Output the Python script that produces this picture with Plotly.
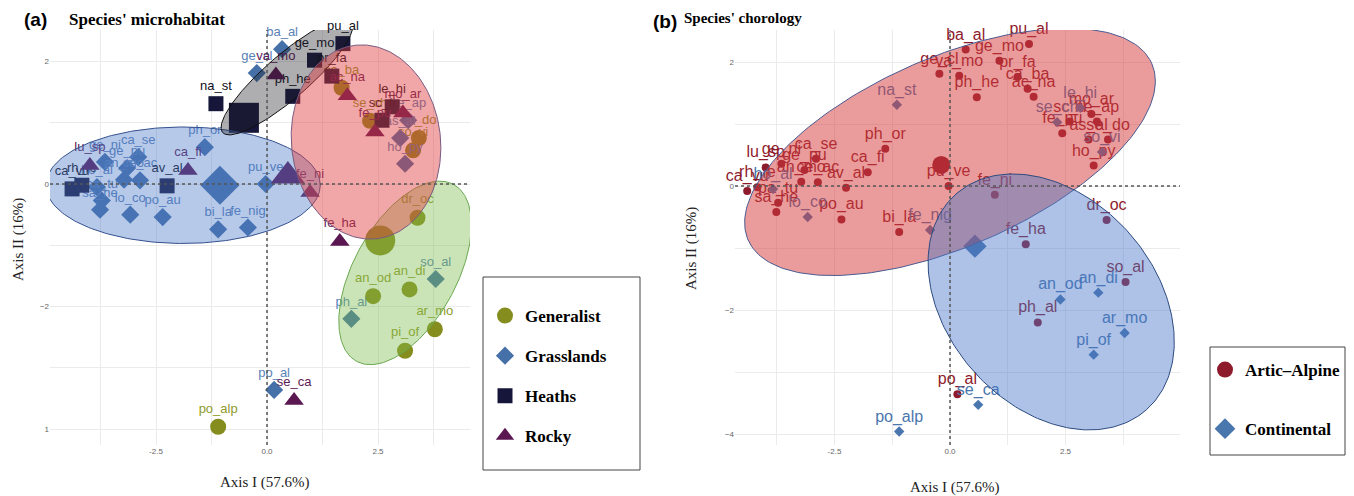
import numpy as np
import plotly.graph_objects as go

# ---------------- data ----------------
species = ["ca_vu", "rh_fe", "lu_sp", "ge_ni", "ge_pu", "ca_se", "an_mo", "ce_ac", "pa_tu", "ho_al", "sa_he",
           "le_hi", "mo_ar", "he_ap", "sc_ti", "se_ch", "fe_pu", "as_al", "se_do", "so_vi", "ho_py",
           "ba_al", "pu_al", "ge_mo", "ge_cl", "va_mo", "pr_fa", "ph_he", "ca_ba", "ac_na", "na_st",
           "ph_or", "ca_fi", "av_al", "lo_co", "po_au", "bi_la", "fe_nig", "pu_ve", "fe_ni", "fe_ha", "dr_oc",
           "so_al", "an_od", "an_di", "ph_al", "ar_mo", "pi_of", "po_al", "se_ca", "po_alp"]
axis1 = [-4.39, -4.17, -3.99, -3.65, -3.15, -2.90, -3.22, -2.86, -3.72, -3.83, -3.76,
         2.82, 3.06, 3.18, 2.59, 2.32, 2.43, 3.00, 3.42, 3.29, 3.11,
         0.34, 1.71, 1.07, -0.23, 0.20, 1.46, 0.58, 1.68, 1.81, -1.15,
         -1.40, -1.78, -2.25, -3.08, -2.35, -1.10, -0.43, -0.03, 0.97, 1.64, 3.39,
         3.80, 2.39, 3.21, 1.90, 3.78, 3.11, 0.16, 0.61, -1.10]
axis2 = [-0.08, -0.02, 0.30, 0.36, 0.26, 0.44, 0.07, 0.06, -0.27, -0.05, -0.42,
         1.26, 1.16, 1.04, 1.04, 1.03, 0.85, 0.75, 0.75, 0.55, 0.33,
         2.20, 2.29, 2.02, 1.81, 1.78, 1.76, 1.43, 1.57, 1.44, 1.31,
         0.60, 0.22, -0.03, -0.50, -0.54, -0.74, -0.71, 0.00, -0.14, -0.94, -0.55,
         -1.55, -1.83, -1.72, -2.20, -2.37, -2.72, -3.36, -3.53, -3.96]
habitat = ["Heaths", "Heaths", "Rocky", "Grasslands", "Grasslands", "Grasslands", "Grasslands", "Grasslands",
           "Grasslands", "Grasslands", "Grasslands",
           "Heaths", "Rocky", "Grasslands", "Heaths", "Generalist", "Rocky", "Grasslands", "Generalist",
           "Generalist", "Grasslands",
           "Grasslands", "Heaths", "Heaths", "Grasslands", "Rocky", "Heaths", "Heaths", "Generalist", "Rocky",
           "Heaths",
           "Grasslands", "Rocky", "Heaths", "Grasslands", "Grasslands", "Grasslands", "Grasslands", "Grasslands",
           "Rocky", "Rocky", "Generalist",
           "Grasslands", "Generalist", "Generalist", "Grasslands", "Generalist", "Generalist", "Grasslands",
           "Rocky", "Generalist"]
chorology = ["Artic–Alpine", "Artic–Alpine", "Artic–Alpine", "Artic–Alpine", "Artic–Alpine", "Artic–Alpine",
             "Artic–Alpine", "Artic–Alpine", "Artic–Alpine", "Continental", "Artic–Alpine",
             "Continental", "Artic–Alpine", "Artic–Alpine", "Artic–Alpine", "Continental", "Artic–Alpine",
             "Artic–Alpine", "Artic–Alpine", "Continental", "Artic–Alpine",
             "Artic–Alpine", "Artic–Alpine", "Artic–Alpine", "Artic–Alpine", "Artic–Alpine", "Artic–Alpine",
             "Artic–Alpine", "Artic–Alpine", "Artic–Alpine", "Continental",
             "Artic–Alpine", "Artic–Alpine", "Artic–Alpine", "Continental", "Artic–Alpine", "Artic–Alpine",
             "Continental", "Artic–Alpine", "Artic–Alpine", "Artic–Alpine", "Artic–Alpine",
             "Artic–Alpine", "Continental", "Continental", "Artic–Alpine", "Continental", "Continental",
             "Artic–Alpine", "Continental", "Continental"]

habitat_groups = ["Generalist", "Grasslands", "Heaths", "Rocky"]
chorology_groups = ["Artic–Alpine", "Continental"]

# group centroids
cen_a_x = [2.55, -1.06, -0.52, 0.47]
cen_a_y = [-0.92, -0.02, 1.08, 0.13]
cen_b_x = [-0.19, 0.54]
cen_b_y = [0.34, -0.97]

# concentration ellipses: centre and two half-axis vectors (data units)
ell_a_group = ["Grasslands", "Generalist", "Heaths", "Rocky"]
ell_a_cx = [-1.89, 3.11, 0.45, 2.23]
ell_a_cy = [-0.02, -1.45, 1.75, 0.685]
ell_a_ux = [3.09, 1.10, 1.45, -0.225]
ell_a_uy = [0.00, 1.44, 0.91, 1.58]
ell_a_vx = [0.00, 1.01, 0.32, 1.67]
ell_a_vy = [0.95, -0.41, -0.27, 0.12]

ell_b_group = ["Artic–Alpine", "Continental"]
ell_b_cx = [0.00, 2.19]
ell_b_cy = [0.55, -1.87]
ell_b_ux = [4.37, 2.06]
ell_b_uy = [1.42, -1.74]
ell_b_vx = [0.81, 1.69]
ell_b_vy = [-1.40, 1.11]

xtick_vals = [-2.5, 0.0, 2.5]
xtick_text = ["-2.5", "0.0", "2.5"]
ytick_a_vals = [2, 0, -2, -4]
ytick_a_text = ["2", "0", "−2", "1"]
ytick_b_vals = [2, 0, -2, -4]
ytick_b_text = ["2", "0", "−2", "−4"]

# ---------------- styles ----------------
W, H = 1354, 496
hab_marker = {"Generalist": "circle", "Grasslands": "diamond", "Heaths": "square", "Rocky": "triangle-up"}
hab_size = {"Generalist": 16, "Grasslands": 14, "Heaths": 15, "Rocky": 17}
hab_color = {"Generalist": "#858D1E", "Grasslands": "#4571A8", "Heaths": "#16163A", "Rocky": "#5A1752"}
hab_text = {"Generalist": "#8E9A2A", "Grasslands": "#5A82B8", "Heaths": "#101020", "Rocky": "#5E1A55"}
hab_fill = {"Generalist": "rgba(125,187,74,0.40)", "Grasslands": "rgba(74,120,200,0.40)",
            "Heaths": "rgba(30,30,40,0.36)", "Rocky": "rgba(224,60,60,0.45)"}
hab_line = {"Generalist": "#6AA84F", "Grasslands": "#33508F", "Heaths": "#111111", "Rocky": "#7A5A80"}

ch_marker = {"Artic–Alpine": "circle", "Continental": "diamond"}
ch_color = {"Artic–Alpine": "#8E1B2C", "Continental": "#4A76AE"}
ch_fill = {"Artic–Alpine": "rgba(214,58,58,0.50)", "Continental": "rgba(74,120,200,0.45)"}
ch_line = {"Artic–Alpine": "#4A5A90", "Continental": "#2C4A80"}


def px(x):
    return x / W


def py(y):
    return 1 - y / H


fig = go.Figure()
sp = np.array(species)
a1 = np.array(axis1)
a2 = np.array(axis2)
hb = np.array(habitat)
ch = np.array(chorology)

# panel (a) points
for g in habitat_groups:
    m = hb == g
    fig.add_trace(go.Scatter(
        x=a1[m], y=a2[m], text=sp[m], mode="markers+text", textposition="top center",
        marker=dict(symbol=hab_marker[g], size=hab_size[g], color=hab_color[g]),
        textfont=dict(family="Liberation Sans", size=13, color=hab_text[g]),
        name=g, legend="legend", legendgroup=g, showlegend=True, cliponaxis=False,
        xaxis="x", yaxis="y", hoverinfo="skip"))
for i, g in enumerate(habitat_groups):
    fig.add_trace(go.Scatter(
        x=[cen_a_x[i]], y=[cen_a_y[i]], mode="markers",
        marker=dict(symbol=hab_marker[g], size=30, color=hab_color[g]),
        showlegend=False, xaxis="x", yaxis="y", hoverinfo="skip"))

t = np.linspace(0, 2 * np.pi, 241)
for i, g in enumerate(ell_a_group):
    ex = ell_a_cx[i] + ell_a_ux[i] * np.cos(t) + ell_a_vx[i] * np.sin(t)
    ey = ell_a_cy[i] + ell_a_uy[i] * np.cos(t) + ell_a_vy[i] * np.sin(t)
    fig.add_trace(go.Scatter(
        x=ex, y=ey, mode="lines", fill="toself", fillcolor=hab_fill[g],
        line=dict(color=hab_line[g], width=1), showlegend=False,
        xaxis="x", yaxis="y", hoverinfo="skip"))

# panel (b) points
for g in chorology_groups:
    m = ch == g
    fig.add_trace(go.Scatter(
        x=a1[m], y=a2[m], text=sp[m], mode="markers+text", textposition="top center",
        marker=dict(symbol=ch_marker[g], size=8, color=ch_color[g]),
        textfont=dict(family="Liberation Sans", size=16, color=ch_color[g]),
        name=g, legend="legend2", legendgroup="b" + g, showlegend=False, cliponaxis=False,
        xaxis="x2", yaxis="y2", hoverinfo="skip"))
for i, g in enumerate(chorology_groups):
    fig.add_trace(go.Scatter(
        x=[cen_b_x[i]], y=[cen_b_y[i]], mode="markers",
        marker=dict(symbol=ch_marker[g], size=18, color=ch_color[g]),
        name=g, legend="legend2", legendgroup="b" + g, showlegend=True,
        xaxis="x2", yaxis="y2", hoverinfo="skip"))
for i, g in enumerate(ell_b_group):
    ex = ell_b_cx[i] + ell_b_ux[i] * np.cos(t) + ell_b_vx[i] * np.sin(t)
    ey = ell_b_cy[i] + ell_b_uy[i] * np.cos(t) + ell_b_vy[i] * np.sin(t)
    fig.add_trace(go.Scatter(
        x=ex, y=ey, mode="lines", fill="toself", fillcolor=ch_fill[g],
        line=dict(color=ch_line[g], width=1), showlegend=False,
        xaxis="x2", yaxis="y2", hoverinfo="skip"))

grid = "#EBEBEB"
tickfont = dict(family="Liberation Sans", size=8, color="#666666")
common_x = dict(showline=False, zeroline=False, showgrid=True, gridcolor=grid, gridwidth=1,
                tickmode="array", tickvals=xtick_vals, ticktext=xtick_text, tickfont=tickfont,
                ticks="", minor=dict(tick0=0, dtick=1.25, showgrid=True, gridcolor=grid, gridwidth=1))

ybot, ytop = 445, 30
fig.update_layout(
    width=W, height=H, margin=dict(l=0, r=0, t=0, b=0),
    paper_bgcolor="white", plot_bgcolor="white",
    xaxis=dict(domain=[px(50), px(470)], range=[(50 - 267) / 44.4, (470 - 267) / 44.4], anchor="y", **common_x),
    yaxis=dict(domain=[py(ybot), py(ytop)], range=[(184 - ybot) / 61.3, (184 - ytop) / 61.3], anchor="x",
               showline=False, zeroline=False, showgrid=True, gridcolor=grid, tickmode="array",
               tickvals=ytick_a_vals, ticktext=ytick_a_text, tickfont=tickfont, ticks="",
               minor=dict(tick0=0, dtick=1, showgrid=True, gridcolor=grid)),
    xaxis2=dict(domain=[px(735), px(1180)], range=[(735 - 950) / 46.2, (1180 - 950) / 46.2], anchor="y2", **common_x),
    yaxis2=dict(domain=[py(ybot), py(ytop)], range=[(186 - ybot) / 62.0, (186 - ytop) / 62.0], anchor="x2",
                showline=False, zeroline=False, showgrid=True, gridcolor=grid, tickmode="array",
                tickvals=ytick_b_vals, ticktext=ytick_b_text, tickfont=tickfont, ticks="",
                minor=dict(tick0=0, dtick=1, showgrid=True, gridcolor=grid)),
    legend=dict(x=px(485), y=py(298), xanchor="left", yanchor="top", bgcolor="rgba(0,0,0,0)",
                borderwidth=0, tracegroupgap=15, itemsizing="trace",
                font=dict(family="Liberation Serif", size=17, color="black", weight="bold")),
    legend2=dict(x=px(1205), y=py(352), xanchor="left", yanchor="top", bgcolor="rgba(0,0,0,0)",
                 borderwidth=0, tracegroupgap=34, itemsizing="trace",
                 font=dict(family="Liberation Serif", size=17, color="black", weight="bold")),
    showlegend=True,
)

shapes = []
for xa, ya in [("x", "y"), ("x2", "y2")]:
    shapes.append(dict(type="line", xref=xa, yref=ya + " domain", x0=0, x1=0, y0=0, y1=1,
                       line=dict(color="#555555", width=1.5, dash="dot")))
    shapes.append(dict(type="line", xref=xa + " domain", yref=ya, x0=0, x1=1, y0=0, y1=0,
                       line=dict(color="#555555", width=1.5, dash="dot")))
shapes.append(dict(type="rect", xref="paper", yref="paper", x0=px(483), x1=px(640), y0=py(470), y1=py(277),
                   line=dict(color="#444444", width=1)))
shapes.append(dict(type="rect", xref="paper", yref="paper", x0=px(1210), x1=px(1345), y0=py(455), y1=py(347),
                   line=dict(color="#444444", width=1)))
fig.update_layout(shapes=shapes)


def note(x, y, text, family, size, color="black", angle=0, xanchor="left"):
    return dict(x=px(x), y=py(y), xref="paper", yref="paper", text=text, showarrow=False,
                xanchor=xanchor, yanchor="middle", textangle=angle,
                font=dict(family=family, size=size, color=color))


ann = [
    note(22, 20, "<b>(a)</b>", "Liberation Sans", 19),
    note(67, 20, "<b>Species' microhabitat</b>", "Liberation Serif", 17),
    note(651, 22, "<b>(b)</b>", "Liberation Sans", 19),
    note(682, 18, "<b>Species' chorology</b>", "Liberation Serif", 15),
    note(265, 482, "Axis I (57.6%)", "Liberation Serif", 15, "#222222", 0, "center"),
    note(955, 487, "Axis I (57.6%)", "Liberation Serif", 15, "#222222", 0, "center"),
    note(18, 240, "Axis II (16%)", "Liberation Serif", 15, "#222222", -90, "center"),
    note(691, 248, "Axis II (16%)", "Liberation Serif", 15, "#222222", -90, "center"),
]
fig.update_layout(annotations=ann)

fig.write_html("out.html")
